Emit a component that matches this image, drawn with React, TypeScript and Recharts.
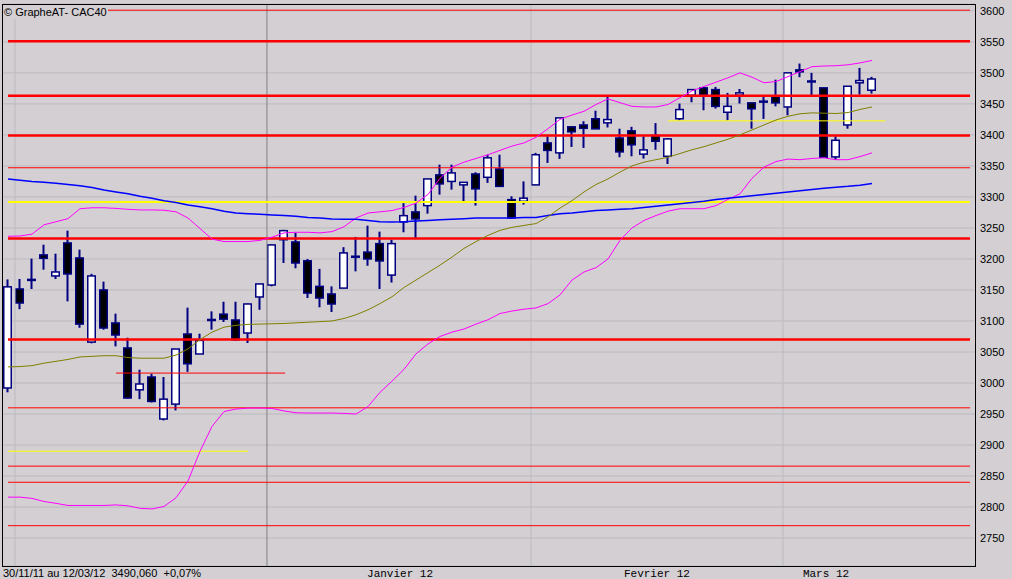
import React from 'react';
import { ComposedChart, Bar, Line, XAxis, YAxis, CartesianGrid, ReferenceLine } from 'recharts';

// CAC40 daily candles, 30/11/11 -> 12/03/12 (73 sessions)
const opens = [
  2992, 3151.6, 3166.6, 3206.5, 3172.6, 3225.8, 3201.6, 3066, 3150, 3096.8,
  3056.5, 2989, 3009.7, 2942, 2966, 3079, 3046.8, 3102, 3111, 3101.6,
  3080.6, 3138.7, 3158, 3231, 3227.4, 3197, 3155.8, 3143.5, 3153, 3204,
  3211, 3224.7, 3174, 3259.7, 3275.8, 3286, 3335.5, 3325, 3319.4, 3337,
  3331.6, 3345, 3295.6, 3293, 3319.4, 3387, 3371, 3413, 3416, 3426,
  3419.4, 3395, 3406.5, 3369, 3399, 3365.5, 3426, 3463.9, 3475.8, 3473,
  3436.5, 3464, 3451.6, 3454, 3462, 3445, 3504.8, 3486.5, 3475.8, 3364.5,
  3416, 3483.9, 3472,
];
const highs = [
  3167, 3167.7, 3200.5, 3223, 3208.5, 3245.6, 3215, 3176, 3163.4, 3111.8,
  3073, 3021.5, 3015, 3009.7, 3055, 3121.5, 3079.5, 3115.5, 3131, 3131,
  3128, 3160, 3223, 3247, 3242, 3200, 3184, 3155.8, 3219, 3235.5,
  3253.7, 3244, 3231, 3290, 3302, 3329, 3352, 3352, 3324, 3339.7,
  3368, 3368, 3301, 3325, 3371, 3397.7, 3427.4, 3413, 3422, 3439,
  3463.9, 3410, 3413, 3397.7, 3419, 3395, 3450.5, 3473, 3477.4, 3477.4,
  3467.7, 3474, 3451.6, 3461, 3489, 3500, 3515, 3500, 3475.8, 3397.7,
  3478.4, 3508, 3493.5,
];
const lows = [
  2985, 3119, 3151.6, 3182.7, 3167.7, 3131.6, 3089, 3064, 3086, 3059,
  2975, 2974, 2968.7, 2939.7, 2955.8, 3018, 3046.8, 3086, 3098.4, 3068,
  3064.5, 3118, 3155.8, 3193.5, 3185, 3137, 3122, 3114.5, 3153, 3180,
  3189, 3151.6, 3162, 3243, 3233.9, 3273, 3303.7, 3311.8, 3293, 3286,
  3322.6, 3317, 3264.5, 3287.6, 3319, 3354.8, 3361.3, 3380.6, 3379, 3409.7,
  3412, 3364, 3365.5, 3361.8, 3376, 3353, 3423.5, 3452.6, 3439.7, 3442.4,
  3423.5, 3450.5, 3410, 3425.8, 3446, 3431.6, 3493, 3463.9, 3363.9, 3360,
  3410, 3465, 3466.6,
];
const closes = [
  3155, 3129, 3164.5, 3201, 3179, 3175.8, 3095, 3172.6, 3088.7, 3077.4,
  2975.8, 2998.4, 2970.3, 2974, 3054.8, 3031, 3068.7, 3102, 3103, 3069.8,
  3127.4, 3159.7, 3222.6, 3245.6, 3193.5, 3145, 3137, 3127.4, 3209.7, 3204,
  3200, 3196.8, 3224.7, 3269.8, 3264.5, 3329, 3321, 3338.7, 3323.5, 3313,
  3363, 3317, 3266, 3298, 3368, 3375, 3427.4, 3405, 3410.6, 3409.7,
  3424.7, 3372.6, 3384, 3375.8, 3389.7, 3393.5, 3440.8, 3473, 3463.9, 3446,
  3446, 3467.7, 3442, 3454, 3451.6, 3500, 3501.6, 3486.5, 3363.9, 3391.3,
  3478.4, 3487.6, 3490.1,
];

// moving averages and Bollinger bands
const mmLong = [
  3329, 3327, 3325, 3323.5, 3322, 3320, 3318, 3315, 3311, 3308,
  3305, 3301, 3298, 3294, 3291, 3287, 3284, 3281, 3277, 3274,
  3273, 3272, 3271, 3270, 3269, 3267, 3266, 3264.5, 3264, 3264,
  3262, 3260, 3259.7, 3260, 3261, 3262, 3263, 3264, 3265, 3266,
  3266, 3266, 3266, 3267, 3267, 3270, 3273, 3274, 3276, 3278,
  3279, 3280, 3281, 3283, 3285, 3287, 3289, 3291, 3293, 3296,
  3298, 3300, 3302, 3304, 3306, 3308, 3310, 3312, 3314, 3315.5,
  3317, 3319, 3321.5,
];
const mm20 = [
  3026, 3026.5, 3028, 3032, 3035, 3038, 3042, 3043, 3044, 3044,
  3041, 3040, 3040, 3040, 3045, 3055, 3070, 3082, 3090, 3093,
  3094.5, 3095, 3095.5, 3096, 3097, 3098, 3099, 3100, 3104, 3110,
  3118, 3128, 3139, 3154, 3166, 3178, 3190, 3203, 3217, 3228,
  3238, 3246, 3251, 3254, 3257, 3268, 3282, 3294, 3308, 3320,
  3329, 3340, 3350, 3356, 3360, 3364, 3370, 3376, 3381, 3387,
  3393, 3400, 3408, 3416, 3424, 3430, 3434, 3435.5, 3435, 3434.5,
  3436, 3441, 3445,
];
const bollUp = [
  3236.5, 3237, 3240, 3255, 3260, 3265, 3281, 3282.5, 3282.5, 3281.5,
  3280, 3279, 3279, 3278.5, 3276, 3266, 3249, 3232, 3228, 3228,
  3228, 3230, 3235, 3242, 3243, 3243, 3242, 3244, 3252, 3266,
  3274, 3276, 3278, 3283, 3290, 3304, 3330, 3348, 3356, 3362,
  3368, 3375, 3382, 3387, 3396, 3410, 3425, 3432, 3438, 3449,
  3458, 3452, 3446, 3445, 3445, 3449, 3460, 3471, 3478, 3485,
  3492, 3500, 3493, 3484, 3486, 3494, 3502, 3510, 3511, 3511.5,
  3513, 3516, 3520,
];
const bollLow = [
  2816, 2816, 2814, 2809, 2806, 2802.6, 2802.6, 2802.6, 2802.6, 2803.5,
  2802, 2798, 2797, 2801, 2815, 2842, 2890, 2930, 2954, 2958,
  2959.5, 2959.7, 2959, 2955, 2952, 2951.6, 2951.6, 2951.6, 2951, 2950,
  2962, 2985, 3003, 3022, 3047, 3063, 3075, 3082, 3087, 3095,
  3102, 3112, 3116, 3119, 3121, 3128, 3142, 3166, 3179, 3186,
  3200, 3230, 3250, 3262, 3270, 3277, 3281, 3281, 3281, 3286,
  3296, 3305, 3330, 3348, 3357, 3361, 3360, 3362, 3363, 3360,
  3360, 3365, 3371,
];

// support / resistance levels
const thickLevels = [3551, 3463, 3399, 3233, 3070];
const thinLevels = [3347, 2960, 2866, 2840, 2770];
const topLevel = 3601;
const yellowLevel = 3292;

const yTicks = [2750, 2800, 2850, 2900, 2950, 3000, 3050, 3100, 3150, 3200, 3250, 3300, 3350, 3400, 3450, 3500, 3550, 3600];
const monthLabels = ['Janvier 12', 'Fevrier 12', 'Mars 12'];
const monthLabelPos = [32.67, 54.08, 68.17];
const monthStarts = [0.58, 21.58, 43.58, 64.58];

const X_MIN = -5 / 12;
const X_MAX = X_MIN + 81;
const LEVEL_END = 80.17;

const BG = '#d3cfd3';
const GRID = '#bcbac0';
const NAVY = '#000080';

const rows = opens.map((o, i) => ({
  i,
  open: o,
  high: highs[i],
  low: lows[i],
  close: closes[i],
  range: [lows[i], highs[i]],
  mmLong: mmLong[i],
  mm20: mm20[i],
  bollUp: bollUp[i],
  bollLow: bollLow[i],
}));

const Candle = (props: any) => {
  const { x, y, width, height, payload } = props;
  if (!payload) return null;
  const { open, close, high, low } = payload;
  const top = Math.min(y, y + height);
  const h = Math.abs(height);
  const span = high - low || 1;
  const toY = (v: number) => top + ((high - v) / span) * h;
  const cx = x + width / 2;
  const yo = toY(open);
  const yc = toY(close);
  const bodyTop = Math.min(yo, yc);
  const bodyH = Math.abs(yc - yo);
  const up = close >= open;
  return (
    <g>
      <line x1={cx} x2={cx} y1={top} y2={top + h} stroke={NAVY} strokeWidth={2} />
      {bodyH < 1.6 ? (
        <rect x={cx - 4.5} y={bodyTop - 1} width={9} height={2.5} fill={NAVY} />
      ) : (
        <rect x={cx - 3.75} y={bodyTop} width={7.5} height={bodyH} fill={up ? '#ffffff' : '#000000'} stroke={NAVY} strokeWidth={1.5} />
      )}
    </g>
  );
};

export default function App() {
  return (
    <div style={{ position: 'absolute', left: 0, top: 0, width: 1012, height: 579, background: BG, overflow: 'hidden', fontFamily: '"Liberation Sans", Arial, sans-serif' }}>
      <ComposedChart width={1012} height={579} data={rows} margin={{ top: 4, right: 0, left: 3, bottom: 0 }}>
        <CartesianGrid vertical={false} stroke={GRID} strokeWidth={1} />
        <XAxis
          type="number"
          dataKey="i"
          domain={[X_MIN, X_MAX]}
          allowDataOverflow
          ticks={monthLabelPos}
          interval={0}
          tickFormatter={(v: number) => monthLabels[monthLabelPos.indexOf(v)] ?? ''}
          height={13}
          tickLine={false}
          axisLine={false}
          tickSize={0}
          tickMargin={3}
          tick={{ fill: '#000', fontSize: 11, fontFamily: '"Liberation Mono", monospace' }}
        />
        <YAxis
          orientation="right"
          type="number"
          domain={[2705, 3611]}
          allowDataOverflow
          ticks={yTicks}
          interval={0}
          width={37}
          tickLine={false}
          axisLine={false}
          tickSize={0}
          tickMargin={5}
          tick={{ fill: '#000', fontSize: 11, fontFamily: '"Liberation Sans", Arial, sans-serif', textAnchor: 'start' }}
        />
        {monthStarts.map((m, k) => (
          <ReferenceLine key={'m' + k} x={m} stroke={k === 1 ? '#808080' : GRID} strokeWidth={1} />
        ))}
        <ReferenceLine segment={[{ x: 8, y: topLevel }, { x: LEVEL_END, y: topLevel }]} stroke="#ff0000" strokeWidth={1} />
        {thickLevels.map((v) => (
          <ReferenceLine key={'t' + v} segment={[{ x: 0, y: v }, { x: LEVEL_END, y: v }]} stroke="#ff0000" strokeWidth={2.5} />
        ))}
        {thinLevels.map((v) => (
          <ReferenceLine key={'n' + v} segment={[{ x: 0, y: v }, { x: LEVEL_END, y: v }]} stroke="#ff0000" strokeWidth={1} />
        ))}
        <ReferenceLine segment={[{ x: 0, y: yellowLevel }, { x: LEVEL_END, y: yellowLevel }]} stroke="#ffff00" strokeWidth={2} />
        <ReferenceLine segment={[{ x: 9, y: 3016 }, { x: 23.1, y: 3016 }]} stroke="#ff0000" strokeWidth={1} />
        <ReferenceLine segment={[{ x: 0, y: 2890 }, { x: 20, y: 2890 }]} stroke="#ffff00" strokeWidth={1} />
        <ReferenceLine segment={[{ x: 55, y: 3422.6 }, { x: 73.1, y: 3422.6 }]} stroke="#ffff00" strokeWidth={1} />
        <Line dataKey="bollUp" stroke="#ff00ff" strokeWidth={1} dot={false} activeDot={false} isAnimationActive={false} type="linear" />
        <Line dataKey="bollLow" stroke="#ff00ff" strokeWidth={1} dot={false} activeDot={false} isAnimationActive={false} type="linear" />
        <Line dataKey="mmLong" stroke="#0000ff" strokeWidth={1.5} dot={false} activeDot={false} isAnimationActive={false} type="linear" />
        <Line dataKey="mm20" stroke="#808000" strokeWidth={1} dot={false} activeDot={false} isAnimationActive={false} type="linear" />
        <Bar dataKey="range" barSize={9} shape={Candle} isAnimationActive={false} />
      </ComposedChart>
      <div style={{ position: 'absolute', left: 2, top: 4, width: 974, height: 563, border: '1px solid #000', boxSizing: 'border-box', pointerEvents: 'none' }} />
      <div style={{ position: 'absolute', left: 4, top: 6, height: 13, lineHeight: '13px', fontSize: 11, color: '#000', background: BG, paddingRight: 1, whiteSpace: 'pre' }}>
        © GrapheAT- CAC40
      </div>
      <div style={{ position: 'absolute', left: 3, top: 567, height: 12, lineHeight: '12px', fontSize: 11, color: '#000', whiteSpace: 'pre' }}>
        {'30/11/11 au 12/03/12  3490,060  +0,07%'}
      </div>
    </div>
  );
}
